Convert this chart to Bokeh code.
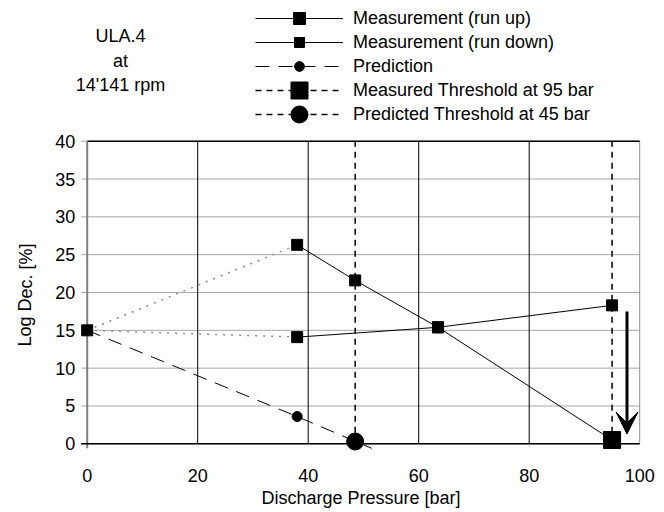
from bokeh.plotting import figure
from bokeh.models import Legend, LegendItem, Label, Arrow, VeeHead, Range1d
from bokeh.core.properties import value
from bokeh.embed import file_html
from bokeh.resources import INLINE

# ---- data ----
run_up_x = [38, 63.5, 95]
run_up_y = [14.1, 15.4, 18.3]
run_down_x = [38, 48.5, 63.5, 95]
run_down_y = [26.3, 21.6, 15.4, 0.5]
run_down_pts_x = [38, 48.5, 63.5]
run_down_pts_y = [26.3, 21.6, 15.4]
start_x = [0]
start_y = [15]
dot_up_x = [0, 38]
dot_up_y = [15, 14.1]
dot_down_x = [0, 38]
dot_down_y = [15, 26.3]
pred_x = [0, 38, 51.5]
pred_y = [15, 3.6, -0.6]
pred_pt_x = [38]
pred_pt_y = [3.6]
meas_thr_x = [95]
meas_thr_y = [0.5]
pred_thr_x = [48.5]
pred_thr_y = [0.3]
arrow_x = [97.7]
arrow_y = [17.5, 1.3]
x_ticks = [0, 20, 40, 60, 80, 100]
y_ticks = [0, 5, 10, 15, 20, 25, 30, 35, 40]
x_tick_labels = [str(t) for t in x_ticks]
y_tick_labels = [str(t) for t in y_ticks]
legend_labels = ["Measurement (run up)", "Measurement (run down)", "Prediction",
                 "Measured Threshold at 95 bar", "Predicted Threshold at 45 bar"]
legend_markers = ["square", "square", "circle", "square", "circle"]
legend_marker_sizes = [12, 10, 9, 17, 17]
title_lines = ["ULA.4", "at", "14'141 rpm"]
x_title = "Discharge Pressure  [bar]"
y_title = "Log Dec.  [%]"

FONT = "Liberation Sans"
W, H = 664, 512
# pixel calibration of the plot area (0..100 bar, 0..40 %)
PX_X0, PX_X100 = 86.7, 639.2
PX_Y40, PX_Y0 = 140.7, 443.3
sx = (PX_X100 - PX_X0) / (x_ticks[-1] - x_ticks[0])
sy = (PX_Y0 - PX_Y40) / (y_ticks[-1] - y_ticks[0])
x_lo = x_ticks[0] - PX_X0 / sx
x_hi = x_ticks[0] + (W - PX_X0) / sx
y_hi = y_ticks[-1] + PX_Y40 / sy
y_lo = y_ticks[0] - (H - PX_Y0) / sy
tick_len = 6 / sx

# legend layout (pixels from the top-left corner)
LEG_LEFT, LEG_TOP, ROW_H, GLYPH_W = 255, 6, 24, 88
n_leg = len(legend_labels)

p = figure(width=W, height=H, x_range=Range1d(x_lo, x_hi), y_range=Range1d(y_lo, y_hi),
           output_backend="svg", toolbar_location=None, x_axis_type=None, y_axis_type=None,
           min_border=0)
p.outline_line_color = None
p.xgrid.grid_line_color = None
p.ygrid.grid_line_color = None

y_lo_t, y_hi_t = y_ticks[0], y_ticks[-1]
x_lo_t, x_hi_t = x_ticks[0], x_ticks[-1]

# horizontal grid (with small outside ticks)
p.segment(x0=x_lo_t - tick_len, y0=y_ticks, x1=x_hi_t, y1=y_ticks, line_color="#a8a8a8", line_width=1)
# vertical grid
p.segment(x0=x_ticks[1:-1], y0=y_lo_t, x1=x_ticks[1:-1], y1=y_hi_t, line_color="black", line_width=1)
p.segment(x0=[x_hi_t], y0=y_lo_t, x1=[x_hi_t], y1=y_hi_t, line_color="#909090", line_width=1)
# top border and axis lines
p.segment(x0=[x_lo_t], y0=[y_hi_t], x1=[x_hi_t], y1=[y_hi_t], line_color="black", line_width=1.5)
p.segment(x0=[x_lo_t], y0=[y_lo_t - 0.6], x1=[x_lo_t], y1=[y_hi_t], line_color="#808080", line_width=2)
p.segment(x0=[x_lo_t - tick_len], y0=[y_lo_t], x1=[x_hi_t], y1=[y_lo_t], line_color="black", line_width=1.5)

# tick labels
p.text(x=[x_lo_t] * len(y_ticks), y=y_ticks, text=y_tick_labels, x_offset=-12,
       text_align="right", text_baseline="middle", text_font=value(FONT),
       text_font_size="18px", text_color="black")
p.text(x=x_ticks, y=[y_lo_t] * len(x_ticks), text=x_tick_labels, y_offset=32,
       text_align="center", text_baseline="middle", text_font=value(FONT),
       text_font_size="18px", text_color="black")

# series
p.line(dot_up_x, dot_up_y, line_color="#8c8c8c", line_width=1.5, line_dash="2 6")
p.line(dot_down_x, dot_down_y, line_color="#8c8c8c", line_width=1.5, line_dash="2 6")

r_mt_line = p.line(meas_thr_x * 2, [y_lo_t, y_hi_t], line_color="black", line_width=1.5, line_dash="6 5")
r_pt_line = p.line(pred_thr_x * 2, [y_lo_t, y_hi_t], line_color="black", line_width=1.5, line_dash="6 5")

r_pred_line = p.line(pred_x, pred_y, line_color="black", line_width=1, line_dash="14 9")
r_pred_pts = p.scatter(pred_pt_x, pred_pt_y, marker="circle", size=10, color="black")

r_up_line = p.line(run_up_x, run_up_y, line_color="black", line_width=1)
r_up_pts = p.scatter(run_up_x, run_up_y, marker="square", size=11, color="black")
r_dn_line = p.line(run_down_x, run_down_y, line_color="black", line_width=1)
r_dn_pts = p.scatter(run_down_pts_x, run_down_pts_y, marker="square", size=11, color="black")
p.scatter(start_x, start_y, marker="square", size=11, color="black")

r_mt_pt = p.scatter(meas_thr_x, meas_thr_y, marker="square", size=17, color="black")
r_pt_pt = p.scatter(pred_thr_x, pred_thr_y, marker="circle", size=17, color="black")

p.add_layout(Arrow(end=VeeHead(size=22, fill_color="black", line_color="black"),
                   x_start=arrow_x[0], y_start=arrow_y[0], x_end=arrow_x[0], y_end=arrow_y[1],
                   line_width=3, line_color="black"))

# axis titles and header (screen units: from the canvas' bottom-left corner)
p.add_layout(Label(x=363, y=H - 497, x_units="screen", y_units="screen", text=x_title,
                   text_align="center", text_baseline="middle", text_font=FONT,
                   text_font_size="18px", text_color="black"))
p.add_layout(Label(x=25, y=H - 292, x_units="screen", y_units="screen", text=y_title,
                   angle=1.5707963, text_align="center", text_baseline="middle", text_font=FONT,
                   text_font_size="18px", text_color="black"))
for txt, yy in zip(title_lines, [35, 60, 84]):
    p.add_layout(Label(x=120, y=H - yy, x_units="screen", y_units="screen", text=txt,
                       text_align="center", text_baseline="middle",
                       text_font=FONT, text_font_size="18px", text_color="black"))

# legend (Bokeh legend for lines + labels; full-size sample markers drawn over it)
legend = Legend(items=[
    LegendItem(label=legend_labels[0], renderers=[r_up_line, r_up_pts]),
    LegendItem(label=legend_labels[1], renderers=[r_dn_line, r_dn_pts]),
    LegendItem(label=legend_labels[2], renderers=[r_pred_line, r_pred_pts]),
    LegendItem(label=legend_labels[3], renderers=[r_mt_line, r_mt_pt]),
    LegendItem(label=legend_labels[4], renderers=[r_pt_line, r_pt_pt]),
], location=(LEG_LEFT, H - (LEG_TOP + n_leg * ROW_H)), border_line_color=None,
    background_fill_alpha=0, glyph_width=GLYPH_W, glyph_height=ROW_H, spacing=0,
    label_standoff=10, padding=0, margin=0, label_height=ROW_H,
    label_text_font=FONT, label_text_font_size="18px", label_text_color="black")
p.add_layout(legend)

leg_mx = [x_lo + (LEG_LEFT + GLYPH_W / 2) / sx] * n_leg
leg_my = [y_hi - (LEG_TOP + ROW_H / 2 + i * ROW_H) / sy for i in range(n_leg)]
for mx, my, mk, ms in zip(leg_mx, leg_my, legend_markers, legend_marker_sizes):
    p.scatter([mx], [my], marker=mk, size=ms, color="black")

open("out.html", "w").write(file_html(p, INLINE))
